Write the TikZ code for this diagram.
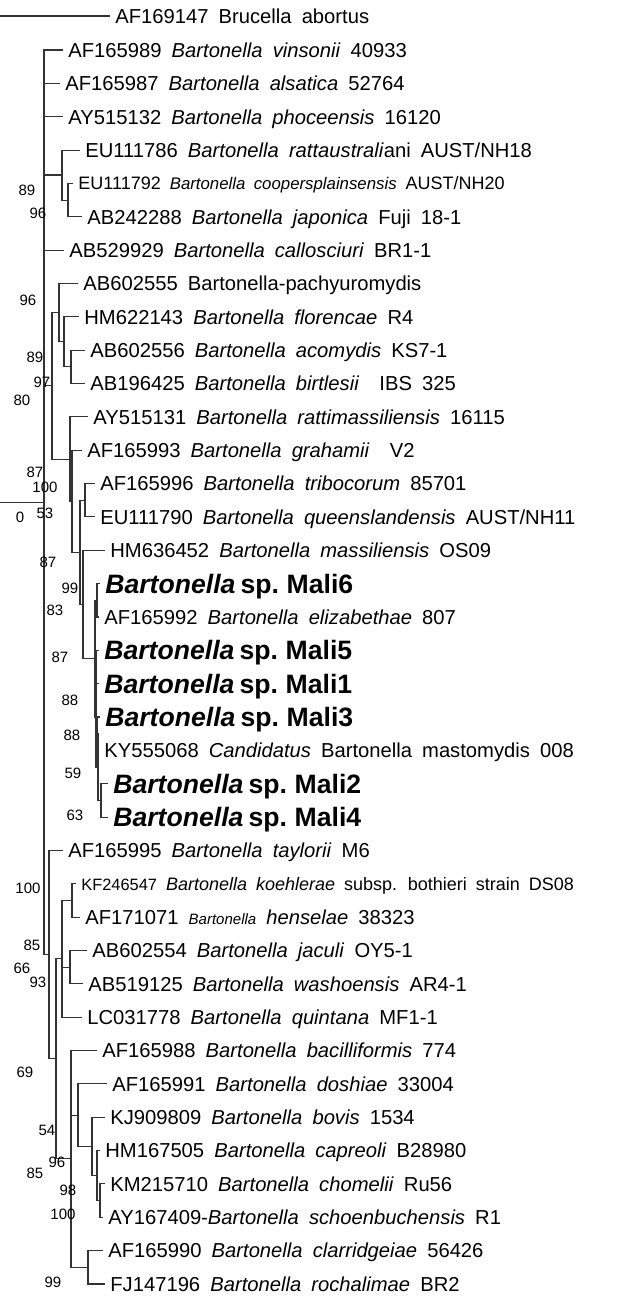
\documentclass[tikz,border=0pt]{standalone}
\usepackage{fontspec}
\setmainfont[WordSpace=1.8]{Liberation Sans}
\newfontfamily\malifont[WordSpace=0.7]{Liberation Sans}

\begin{document}
\begin{tikzpicture}[x=0.5pt, y=-0.5pt,
    branch/.style={draw=black!80, line width=0.55pt},
    leaf/.style={anchor=west, inner xsep=2.5pt, inner ysep=0pt,
      text height=7.3pt, text depth=0pt, font=\fontsize{10.1}{12}\selectfont},
    smallleaf/.style={leaf, text height=6.5pt, font=\fontsize{9}{11}\selectfont},
    malileaf/.style={anchor=west, inner xsep=2.5pt, inner ysep=0pt,
      text height=9.6pt, text depth=0pt,
      font=\malifont\fontsize{13.3}{15}\selectfont\bfseries},
    boot/.style={inner sep=0pt, font=\fontsize{7.5}{9}\selectfont}]
  \useasboundingbox (0,0) rectangle (636,1296);

  \node[leaf] (bruc) at (110,16) {AF169147 Brucella abortus};
  \node[leaf] (vins) at (63,50) {AF165989 \textit{Bartonella vinsonii} 40933};
  \node[leaf] (alsa) at (60,83.4) {AF165987 \textit{Bartonella alsatica} 52764};
  \node[leaf] (phoc) at (63,116.7) {AY515132 \textit{Bartonella phoceensis} 16120};
  \node[leaf] (ratt) at (80,150.1) {EU111786 \textit{Bartonella rattaustrali}ani AUST/NH18};
  \node[smallleaf] (coop) at (73,183.4) {EU111792 {\fontsize{8.4}{10}\selectfont\itshape Bartonella coopersplainsensis} AUST/NH20};
  \node[leaf] (japo) at (82,216.8) {AB242288 \textit{Bartonella japonica} Fuji 18-1};
  \node[leaf] (call) at (64,250.1) {AB529929 \textit{Bartonella callosciuri} BR1-1};
  \node[leaf] (pach) at (78,283.5) {AB602555 Bartonella-pachyuromydis};
  \node[leaf] (flor) at (79,316.8) {HM622143 \textit{Bartonella florencae} R4};
  \node[leaf] (acom) at (85,350.2) {AB602556 \textit{Bartonella acomydis} KS7-1};
  \node[leaf] (birt) at (85,383.5) {AB196425 \textit{Bartonella birtlesii}\ \ IBS 325};
  \node[leaf] (rtms) at (88,416.9) {AY515131 \textit{Bartonella rattimassiliensis} 16115};
  \node[leaf] (grah) at (82,450.2) {AF165993 \textit{Bartonella grahamii}\ \ V2};
  \node[leaf] (trib) at (95,483.6) {AF165996 \textit{Bartonella tribocorum} 85701};
  \node[leaf] (quee) at (95,516.9) {EU111790 \textit{Bartonella queenslandensis} AUST/NH11};
  \node[leaf] (mass) at (105,550.3) {HM636452 \textit{Bartonella massiliensis} OS09};
  \node[malileaf] (mali6) at (100,583.6) {\textit{Bartonella} sp. Mali6};
  \node[leaf] (eliz) at (99,617) {AF165992 \textit{Bartonella elizabethae} 807};
  \node[malileaf] (mali5) at (99,650.3) {\textit{Bartonella} sp. Mali5};
  \node[malileaf] (mali1) at (99,683.7) {\textit{Bartonella} sp. Mali1};
  \node[malileaf] (mali3) at (100,717) {\textit{Bartonella} sp. Mali3};
  \node[leaf] (mast) at (99,750.4) {KY555068 \textit{Candidatus} Bartonella mastomydis 008};
  \node[malileaf] (mali2) at (108,783.7) {\textit{Bartonella} sp. Mali2};
  \node[malileaf] (mali4) at (108,817.1) {\textit{Bartonella} sp. Mali4};
  \node[leaf] (tayl) at (63,850.4) {AF165995 \textit{Bartonella taylorii} M6};
  \node[smallleaf] (koeh) at (76,883.8) {{\fontsize{8.2}{10}\selectfont KF246547} \textit{Bartonella koehlerae} subsp. bothieri strain DS08};
  \node[leaf] (hens) at (80,917.1) {AF171071 {\fontsize{7.5}{9}\selectfont\itshape Bartonella} \textit{henselae} 38323};
  \node[leaf] (jacu) at (87,950.5) {AB602554 \textit{Bartonella jaculi} OY5-1};
  \node[leaf] (wash) at (83,983.8) {AB519125 \textit{Bartonella washoensis} AR4-1};
  \node[leaf] (quin) at (82,1017.2) {LC031778 \textit{Bartonella quintana} MF1-1};
  \node[leaf] (baci) at (97,1050.5) {AF165988 \textit{Bartonella bacilliformis} 774};
  \node[leaf] (dosh) at (107,1083.9) {AF165991 \textit{Bartonella doshiae} 33004};
  \node[leaf] (bovi) at (105,1117.2) {KJ909809 \textit{Bartonella bovis} 1534};
  \node[leaf] (capr) at (100,1150.6) {HM167505 \textit{Bartonella capreoli} B28980};
  \node[leaf] (chom) at (105,1183.9) {KM215710 \textit{Bartonella chomelii} Ru56};
  \node[leaf] (scho) at (103,1217.3) {AY167409-\textit{Bartonella schoenbuchensis} R1};
  \node[leaf] (clar) at (103,1250.6) {AF165990 \textit{Bartonella clarridgeiae} 56426};
  \node[leaf] (roch) at (105,1284) {FJ147196 \textit{Bartonella rochalimae} BR2};

  \coordinate (og) at (0,16);
  \coordinate (root) at (0,502.3);
  \coordinate (cAll) at (44,502.3);
  \coordinate (cRatt) at (62,175);
  \coordinate (cCoop) at (68,200.1);
  \coordinate (cPR) at (52,385.9);
  \coordinate (cPach) at (59,312.65);
  \coordinate (cFlor) at (64,341.8);
  \coordinate (cAcom) at (71,366.85);
  \coordinate (cRattm) at (70,459.1);
  \coordinate (cGrah) at (72,501.3);
  \coordinate (cTM) at (80,552.4);
  \coordinate (cTrib) at (85,500.25);
  \coordinate (cMass) at (83,604.5);
  \coordinate (cMali) at (95,658.65);
  \coordinate (cM6) at (97,600.3);
  \coordinate (cM532) at (96,717);
  \coordinate (cM5) at (96,667);
  \coordinate (cM32) at (98,767.05);
  \coordinate (cM3) at (97,733.7);
  \coordinate (cM2) at (101,800.4);
  \coordinate (cTayl) at (49,954.6);
  \coordinate (cHens) at (56,1058.85);
  \coordinate (cQuin) at (62,958.8);
  \coordinate (cKoeh) at (72,900.45);
  \coordinate (cJacu) at (70,967.15);
  \coordinate (cBaci) at (71,1158.9);
  \coordinate (cDosh) at (78,1115.15);
  \coordinate (cBovi) at (92,1146.4);
  \coordinate (cCapr) at (97,1175.6);
  \coordinate (cChom) at (100,1200.6);
  \coordinate (cClar) at (88,1267.3);

  \draw[branch] (og) -- (bruc.west);
  \draw[branch] (root) -- (cAll);
  \draw[branch] (cAll) |- (vins.west) (cAll) |- (alsa.west) (cAll) |- (phoc.west)
    (cAll) |- (cRatt) (cAll) |- (call.west) (cAll) |- (cPR) (cAll) |- (cTayl);
  \draw[branch] (cRatt) |- (ratt.west) (cRatt) |- (cCoop);
  \draw[branch] (cCoop) |- (coop.west) (cCoop) |- (japo.west);
  \draw[branch] (cPR) |- (cPach) (cPR) |- (cRattm);
  \draw[branch] (cPach) |- (pach.west) (cPach) |- (cFlor);
  \draw[branch] (cFlor) |- (flor.west) (cFlor) |- (cAcom);
  \draw[branch] (cAcom) |- (acom.west) (cAcom) |- (birt.west);
  \draw[branch] (cRattm) |- (rtms.west) (cRattm) |- (cGrah);
  \draw[branch] (cGrah) |- (grah.west) (cGrah) |- (cTM);
  \draw[branch] (cTM) |- (cTrib) (cTM) |- (cMass);
  \draw[branch] (cTrib) |- (trib.west) (cTrib) |- (quee.west);
  \draw[branch] (cMass) |- (mass.west) (cMass) |- (cMali);
  \draw[branch] (cMali) |- (cM6) (cMali) |- (cM532);
  \draw[branch] (cM6) |- (mali6.west) (cM6) |- (eliz.west);
  \draw[branch] (cM532) |- (cM5) (cM532) |- (cM32);
  \draw[branch] (cM5) |- (mali5.west) (cM5) |- (mali1.west);
  \draw[branch] (cM32) |- (cM3) (cM32) |- (cM2);
  \draw[branch] (cM3) |- (mali3.west) (cM3) |- (mast.west);
  \draw[branch] (cM2) |- (mali2.west) (cM2) |- (mali4.west);
  \draw[branch] (cTayl) |- (tayl.west) (cTayl) |- (cHens);
  \draw[branch] (cHens) |- (cQuin) (cHens) |- (cBaci);
  \draw[branch] (cQuin) |- (cKoeh) (cQuin) |- (cJacu) (cQuin) |- (quin.west);
  \draw[branch] (cKoeh) |- (koeh.west) (cKoeh) |- (hens.west);
  \draw[branch] (cJacu) |- (jacu.west) (cJacu) |- (wash.west);
  \draw[branch] (cBaci) |- (baci.west) (cBaci) |- (cDosh) (cBaci) |- (cClar);
  \draw[branch] (cDosh) |- (dosh.west) (cDosh) |- (cBovi);
  \draw[branch] (cBovi) |- (bovi.west) (cBovi) |- (cCapr);
  \draw[branch] (cCapr) |- (capr.west) (cCapr) |- (cChom);
  \draw[branch] (cChom) |- (chom.west) (cChom) |- (scho.west);
  \draw[branch] (cClar) |- (clar.west) (cClar) |- (roch.west);

  \node[boot] (b1) at (27,190) {89};
  \node[boot] (b2) at (38,213) {96};
  \node[boot] (b3) at (28,300) {96};
  \node[boot] (b4) at (35,357) {89};
  \node[boot] (b5) at (42,382) {97};
  \node[boot] (b6) at (22,400) {80};
  \node[boot] (b7) at (35,472) {87};
  \node[boot] (b8) at (45,487) {100};
  \node[boot] (b9) at (20,517) {0};
  \node[boot] (b10) at (45,513) {53};
  \node[boot] (b11) at (48,562) {87};
  \node[boot] (b12) at (70,588) {99};
  \node[boot] (b13) at (55,610) {83};
  \node[boot] (b14) at (60,657) {87};
  \node[boot] (b15) at (70,700) {88};
  \node[boot] (b16) at (72,735) {88};
  \node[boot] (b17) at (73,773) {59};
  \node[boot] (b18) at (75,815) {63};
  \node[boot] (b19) at (28,888) {100};
  \node[boot] (b20) at (32,945) {85};
  \node[boot] (b21) at (22,968) {66};
  \node[boot] (b22) at (38,982) {93};
  \node[boot] (b23) at (25,1072) {69};
  \node[boot] (b24) at (47,1130) {54};
  \node[boot] (b25) at (57,1162) {96};
  \node[boot] (b26) at (35,1173) {85};
  \node[boot] (b27) at (68,1190) {98};
  \node[boot] (b28) at (63,1214) {100};
  \node[boot] (b29) at (53,1282) {99};
\end{tikzpicture}
\end{document}
